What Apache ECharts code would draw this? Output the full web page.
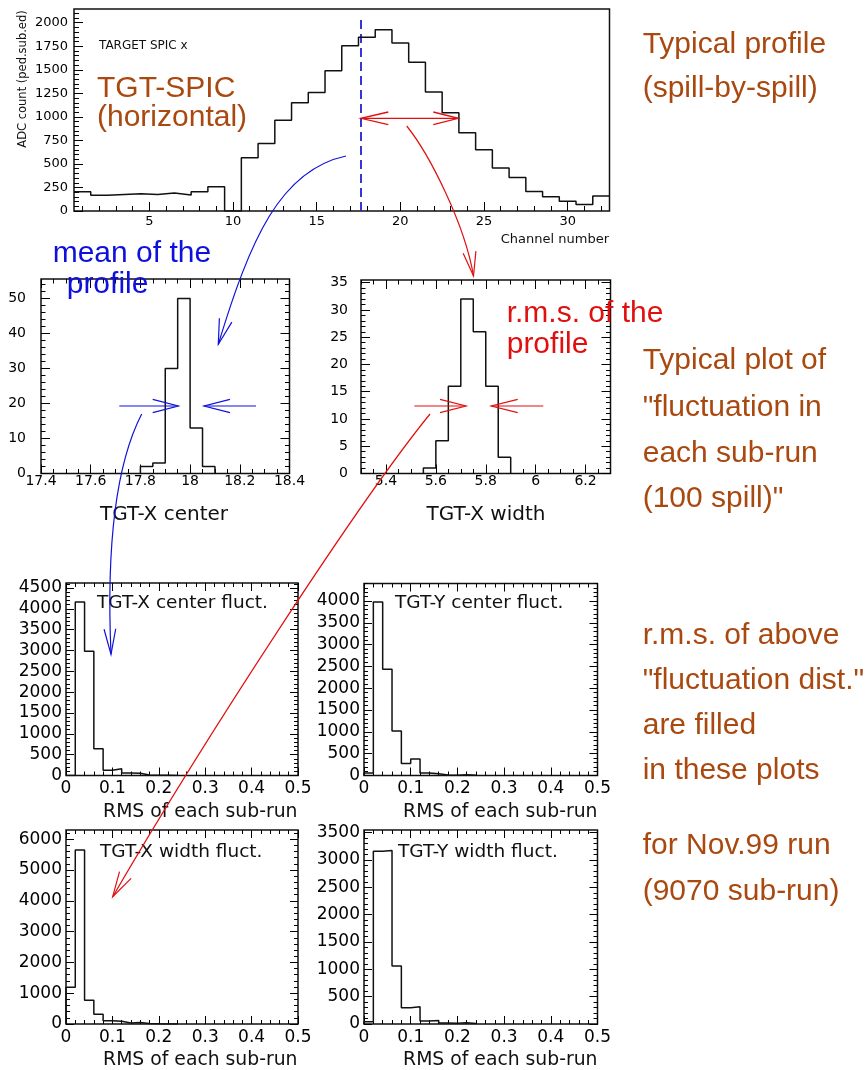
<!DOCTYPE html>
<html><head><meta charset="utf-8">
<script src="https://cdn.jsdelivr.net/npm/echarts@6/dist/echarts.min.js"></script>
<style>html,body{margin:0;padding:0;background:#fff}#c{width:866px;height:1070px}</style>
</head><body><div id="c"></div>
<script>
// ---------------- data ----------------
const profileChannels = [1,2,3,4,5,6,7,8,9,10,11,12,13,14,15,16,17,18,19,20,21,22,23,24,25,26,27,28,29,30,31,32];
const profileCounts = [205,168,176,184,176,190,170,205,258,0,565,718,965,1150,1258,1490,1755,1845,1925,1785,1580,1265,1045,830,650,458,355,208,152,103,68,160];
const profileMean = 17.66;
const profileXTicks = [5,10,15,20,25,30];
const profileYTicks = [0,250,500,750,1000,1250,1500,1750,2000];

const centerBinLow = [17.80,17.85,17.90,17.95,18.00,18.05];
const centerCounts = [2,3,30,50,13,2];
const centerXTicks = [17.4,17.6,17.8,18,18.2,18.4];
const centerYTicks = [0,10,20,30,40,50];

const widthBinLow = [5.55,5.60,5.65,5.70,5.75,5.80,5.85];
const widthCounts = [1,6,16,32,26,16,3];
const widthXTicks = [5.4,5.6,5.8,6,6.2];
const widthYTicks = [0,5,10,15,20,25,30,35];

const rmsBinLow = [0,0.02,0.04,0.06,0.08,0.10,0.12,0.14,0.16,0.18,0.20,0.22];
const xCenterFluct = [0,4165,2980,640,128,160,62,55,12,6,4,2];
const yCenterFluct = [55,3975,2435,1020,275,380,60,40,12,8,15,4];
const xWidthFluct  = [1195,5650,770,315,108,90,35,52,18,8,4,2];
const yWidthFluct  = [42,3160,3175,1060,298,316,55,65,20,15,25,10];
const rmsXTicks = [0,0.1,0.2,0.3,0.4,0.5];
const xCenterYTicks = [0,500,1000,1500,2000,2500,3000,3500,4000,4500];
const yCenterYTicks = [0,500,1000,1500,2000,2500,3000,3500,4000];
const xWidthYTicks = [0,1000,2000,3000,4000,5000,6000];
const yWidthYTicks = [0,500,1000,1500,2000,2500,3000,3500];

// ---------------- helpers ----------------
function seq(from, to, step) { const a = []; const n = Math.round((to - from) / step); for (let i = 0; i <= n; i++) a.push(+(from + i * step).toFixed(6)); return a; }
function stepData(lows, counts, w) {
  const d = [[lows[0], 0]];
  lows.forEach((x, i) => d.push([x, counts[i]]));
  d.push([+(lows[lows.length - 1] + w).toFixed(6), 0]);
  return d;
}
const fmt = v => String(+(+v).toFixed(4));
const TF = 'DejaVu Sans';

const grids = [], xAxes = [], yAxes = [], series = [];
function panel(box, c) {
  const gi = grids.length;
  grids.push({left: box[0], top: box[1], width: box[2], height: box[3], show: true, borderColor: '#111', borderWidth: 1.5,
    backgroundColor: 'transparent', containLabel: false, outerBoundsMode: 'none'});
  const base = (mm) => ({gridIndex: gi, type: 'value', min: mm[0], max: mm[1], axisLine: {show: false, onZero: false}, splitLine: {show: false}, minorTick: {show: false}});
  const tick = (vals, len) => ({show: true, inside: true, length: len, customValues: vals, lineStyle: {color: '#000', width: 1}});
  const lab = (vals, margin) => ({show: true, customValues: vals, margin: margin, fontFamily: TF, fontSize: c.fs, color: '#000', formatter: fmt});
  const xi = xAxes.length;
  xAxes.push(Object.assign(base(c.x), {position: 'bottom', axisTick: tick(c.xMaj, c.L), axisLabel: lab(c.xMaj, c.xm)}));
  xAxes.push(Object.assign(base(c.x), {position: 'bottom', axisTick: tick(c.xMin, c.l), axisLabel: {show: false}}));
  if (c.mirror) {
    xAxes.push(Object.assign(base(c.x), {position: 'top', axisTick: tick(c.xMaj, c.L), axisLabel: {show: false}}));
    xAxes.push(Object.assign(base(c.x), {position: 'top', axisTick: tick(c.xMin, c.l), axisLabel: {show: false}}));
  }
  const yi = yAxes.length;
  yAxes.push(Object.assign(base(c.y), {position: 'left', axisTick: tick(c.yMaj, c.L), axisLabel: lab(c.yMaj, c.ym)}));
  yAxes.push(Object.assign(base(c.y), {position: 'left', axisTick: tick(c.yMin, c.l), axisLabel: {show: false}}));
  if (c.mirror) {
    yAxes.push(Object.assign(base(c.y), {position: 'right', axisTick: tick(c.yMaj, c.L), axisLabel: {show: false}}));
    yAxes.push(Object.assign(base(c.y), {position: 'right', axisTick: tick(c.yMin, c.l), axisLabel: {show: false}}));
  }
  return [xi, yi];
}
function histSeries(ax, data, extra) {
  series.push(Object.assign({type: 'line', xAxisIndex: ax[0], yAxisIndex: ax[1], data: data, step: 'end', symbol: 'none',
    lineStyle: {color: '#111', width: 1.5}, silent: true, z: 5, animation: false}, extra || {}));
}

// ---------------- panels ----------------
const a0 = panel([74, 9, 535.5, 202], {x: [0.5, 32.5], y: [0, 2146], xMaj: profileXTicks, xMin: seq(1, 32, 1), yMaj: profileYTicks, yMin: seq(0, 2100, 50),
  L: 9, l: 5, fs: 13, xm: 4, ym: 6, mirror: false});
const profileData = profileChannels.map((ch, i) => [ch - 0.5, profileCounts[i]]);
profileData.push([profileChannels[profileChannels.length - 1] + 0.5, profileCounts[profileCounts.length - 1]]);
histSeries(a0, profileData, {
  markLine: {silent: true, symbol: ['none', 'none'], animation: false, label: {show: false},
    lineStyle: {color: '#2222cc', width: 1.8, type: [9, 5]},
    data: [[{coord: [profileMean, 0]}, {coord: [profileMean, 2050]}]]}
});

const a1 = panel([41, 279, 248.5, 194.5], {x: [17.4, 18.4], y: [0, 55.6], xMaj: centerXTicks, xMin: seq(17.4, 18.4, 0.05), yMaj: centerYTicks, yMin: seq(0, 54, 2),
  L: 9, l: 4.5, fs: 14, xm: 1, ym: 15, mirror: true});
histSeries(a1, stepData(centerBinLow, centerCounts, 0.05));

const a2 = panel([361, 280, 249.5, 193.5], {x: [5.3, 6.3], y: [0, 35.5], xMaj: widthXTicks, xMin: seq(5.3, 6.3, 0.05), yMaj: widthYTicks, yMin: seq(0, 35, 1),
  L: 9, l: 4.5, fs: 14, xm: 1, ym: 13, mirror: true});
histSeries(a2, stepData(widthBinLow, widthCounts, 0.05));

const rmsMinor = seq(0, 0.5, 0.02);
const a3 = panel([66, 583, 232, 192.5], {x: [0, 0.5], y: [0, 4620], xMaj: rmsXTicks, xMin: rmsMinor, yMaj: xCenterYTicks, yMin: seq(0, 4600, 100),
  L: 8, l: 4, fs: 17, xm: 5, ym: 4, mirror: true});
histSeries(a3, stepData(rmsBinLow, xCenterFluct, 0.02));

const a4 = panel([364, 583.5, 233.5, 192], {x: [0, 0.5], y: [0, 4400], xMaj: rmsXTicks, xMin: rmsMinor, yMaj: yCenterYTicks, yMin: seq(0, 4400, 100),
  L: 8, l: 4, fs: 17, xm: 5, ym: 4, mirror: true});
histSeries(a4, stepData(rmsBinLow, yCenterFluct, 0.02));

const a5 = panel([66, 830, 232, 194], {x: [0, 0.5], y: [0, 6300], xMaj: rmsXTicks, xMin: rmsMinor, yMaj: xWidthYTicks, yMin: seq(0, 6200, 200),
  L: 8, l: 4, fs: 17, xm: 5, ym: 4, mirror: true});
histSeries(a5, stepData(rmsBinLow, xWidthFluct, 0.02));

const a6 = panel([364, 830, 233.5, 194], {x: [0, 0.5], y: [0, 3550], xMaj: rmsXTicks, xMin: rmsMinor, yMaj: yWidthYTicks, yMin: seq(0, 3500, 100),
  L: 8, l: 4, fs: 17, xm: 5, ym: 4, mirror: true});
histSeries(a6, stepData(rmsBinLow, yWidthFluct, 0.02));

// ---------------- annotations ----------------
const BROWN = '#a9480f', BLUE = '#1010dc', RED = '#e01010';
const G = [];
function txt(s, x, baseline, size, color, family, align) {
  G.push({type: 'text', x: x, y: baseline - 0.25 * size, z: 100, silent: true,
    style: {text: s, font: size + 'px "' + family + '"', fill: color, align: align || 'left', textAlign: align || 'left',
      verticalAlign: 'middle', textVerticalAlign: 'middle'}});
}
function line(pts, color, w) {
  G.push({type: 'polyline', z: 100, silent: true, shape: {points: pts}, style: {stroke: color, lineWidth: w || 1.2, fill: null}});
}
function curve(p0, p1, p2, p3, color) {
  G.push({type: 'bezierCurve', z: 100, silent: true,
    shape: {x1: p0[0], y1: p0[1], cpx1: p1[0], cpy1: p1[1], cpx2: p2[0], cpy2: p2[1], x2: p3[0], y2: p3[1]},
    style: {stroke: color, lineWidth: 1.2, fill: null}});
}
function head(tip, from, len, deg, color) {
  let dx = from[0] - tip[0], dy = from[1] - tip[1];
  const n = Math.hypot(dx, dy); dx /= n; dy /= n;
  const a = deg * Math.PI / 180, c = Math.cos(a), s = Math.sin(a);
  const p1 = [tip[0] + len * (dx * c - dy * s), tip[1] + len * (dx * s + dy * c)];
  const p2 = [tip[0] + len * (dx * c + dy * s), tip[1] + len * (-dx * s + dy * c)];
  line([p1, tip, p2], color, 1.2);
}

// top panel texts
txt('TARGET SPIC x', 99, 49, 12, '#111', TF);
txt('TGT-SPIC', 97, 96.7, 30, BROWN, 'Liberation Sans');
txt('(horizontal)', 97, 125, 30, BROWN, 'Liberation Sans');
txt('Channel number', 609, 242.7, 13, '#111', TF, 'right');
G.push({type: 'text', x: 23, y: 79, rotation: Math.PI / 2, z: 100, silent: true,
  style: {text: 'ADC count (ped.sub.ed)', font: '11.5px "DejaVu Sans"', fill: '#111', align: 'center', textAlign: 'center', verticalAlign: 'middle', textVerticalAlign: 'middle'}});

// red rms double arrow on profile
line([[361, 118.3], [458.3, 118.3]], RED, 1.3);
line([[388.3, 112], [361, 118.3], [388.3, 124.6]], RED, 1.3);
line([[433.3, 112], [458.3, 118.3], [433.3, 124.6]], RED, 1.3);

// blue / red notes
txt('mean of the', 52.7, 261.7, 30, BLUE, 'Liberation Sans');
txt('profile', 66.7, 292.7, 30, BLUE, 'Liberation Sans');
txt('r.m.s. of the', 506.7, 321.7, 30, RED, 'Liberation Sans');
txt('profile', 506.7, 352.7, 30, RED, 'Liberation Sans');

// axis titles
txt('TGT-X center', 164, 520, 20, '#111', TF, 'center');
txt('TGT-X width', 486, 520, 20, '#111', TF, 'center');
txt('RMS of each sub-run', 297.5, 816.5, 18.8, '#111', TF, 'right');
txt('RMS of each sub-run', 597.5, 816.5, 18.8, '#111', TF, 'right');
txt('RMS of each sub-run', 297.5, 1065, 18.8, '#111', TF, 'right');
txt('RMS of each sub-run', 597.5, 1065, 18.8, '#111', TF, 'right');
txt('TGT-X center fluct.', 97, 608.3, 18.5, '#111', TF);
txt('TGT-Y center fluct.', 395, 607.7, 18.5, '#111', TF);
txt('TGT-X width fluct.', 100, 857.3, 18.5, '#111', TF);
txt('TGT-Y width fluct.', 398, 857.3, 18.5, '#111', TF);

// right column notes
const notes = [['Typical profile', 52], ['(spill-by-spill)', 96], ['Typical plot of', 368], ['"fluctuation in', 415],
  ['each sub-run', 461], ['(100 spill)"', 506], ['r.m.s. of above', 643], ['"fluctuation dist."', 688],
  ['are filled', 733], ['in these plots', 778], ['for Nov.99 run', 853], ['(9070 sub-run)', 899]];
notes.forEach(n => txt(n[0], 642.7, n[1], 30, BROWN, 'Liberation Sans'));

// middle arrows (blue)
line([[119.3, 406], [178.3, 406]], BLUE);
line([[152.7, 399.3], [178.3, 406], [152.7, 412.7]], BLUE);
line([[256, 406], [204, 406]], BLUE);
line([[230, 399.3], [204, 406], [230, 412.7]], BLUE);
// middle arrows (red)
line([[414.3, 406], [466, 406]], RED);
line([[440, 399.3], [466, 406], [440, 412.7]], RED);
line([[543.3, 406], [491.3, 406]], RED);
line([[517.7, 399.3], [491.3, 406], [517.7, 412.7]], RED);

// curved pointers
curve([346, 156], [280, 170], [250, 240], [218.3, 344.3], BLUE);
head([218.3, 344.3], [250, 240], 26, 14.5, BLUE);
curve([141.7, 414], [118, 460], [106, 540], [111, 654.3], BLUE);
head([111, 654.3], [106, 540], 26, 13, BLUE);
curve([406.7, 126], [430, 155], [465, 225], [473.5, 276], RED);
head([473.5, 276], [465, 225], 25, 15, RED);
curve([430, 414], [360, 500], [205, 738], [112.7, 896.7], RED);
head([112.7, 896.7], [205, 738], 26, 15, RED);

const option = {
  animation: false,
  backgroundColor: '#fff',
  textStyle: {fontFamily: TF},
  grid: grids, xAxis: xAxes, yAxis: yAxes, series: series,
  graphic: {elements: G}
};
const chart = echarts.init(document.getElementById('c'), null, {renderer: 'canvas', width: 866, height: 1070});
chart.setOption(option);
</script></body></html>
